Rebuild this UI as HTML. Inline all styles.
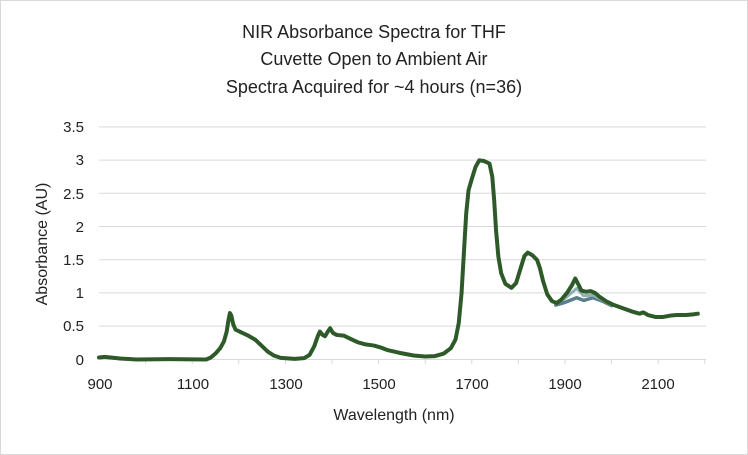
<!DOCTYPE html>
<html><head><style>
body{margin:0;background:#fff;}
svg{display:block;font-family:"Liberation Sans",sans-serif;}
</style></head><body>
<svg width="748" height="455" viewBox="0 0 748 455">
<rect x="0.5" y="0.5" width="747" height="454" fill="#fff" stroke="#d9d9d9"/>
<g font-size="18" fill="#222" text-anchor="middle">
<text x="374" y="38">NIR Absorbance Spectra for THF</text>
<text x="374" y="65">Cuvette Open to Ambient Air</text>
<text x="374" y="93">Spectra Acquired for ~4 hours (n=36)</text>
</g>
<g stroke="#d9d9d9" stroke-width="1">
<line x1="99" x2="706" y1="126.9" y2="126.9"/>
<line x1="99" x2="706" y1="160.1" y2="160.1"/>
<line x1="99" x2="706" y1="193.3" y2="193.3"/>
<line x1="99" x2="706" y1="226.5" y2="226.5"/>
<line x1="99" x2="706" y1="259.7" y2="259.7"/>
<line x1="99" x2="706" y1="292.9" y2="292.9"/>
<line x1="99" x2="706" y1="326.1" y2="326.1"/>
<line x1="99" x2="706" y1="359.5" y2="359.5"/>
</g>
<g stroke="#d9d9d9" stroke-width="1">
<line x1="145.6" x2="145.6" y1="359.5" y2="364"/><line x1="192.2" x2="192.2" y1="359.5" y2="364"/>
<line x1="238.8" x2="238.8" y1="359.5" y2="364"/><line x1="285.4" x2="285.4" y1="359.5" y2="364"/>
<line x1="332" x2="332" y1="359.5" y2="364"/><line x1="378.6" x2="378.6" y1="359.5" y2="364"/>
<line x1="425.2" x2="425.2" y1="359.5" y2="364"/><line x1="471.8" x2="471.8" y1="359.5" y2="364"/>
<line x1="518.4" x2="518.4" y1="359.5" y2="364"/><line x1="565" x2="565" y1="359.5" y2="364"/>
<line x1="611.6" x2="611.6" y1="359.5" y2="364"/><line x1="658.2" x2="658.2" y1="359.5" y2="364"/>
<line x1="704.8" x2="704.8" y1="359.5" y2="364"/>
</g>
<g font-size="15" fill="#222" text-anchor="end">
<text x="84" y="132">3.5</text><text x="84" y="165">3</text><text x="84" y="199">2.5</text>
<text x="84" y="232">2</text><text x="84" y="265">1.5</text><text x="84" y="298">1</text>
<text x="84" y="331">0.5</text><text x="84" y="365">0</text>
</g>
<g font-size="15" fill="#222" text-anchor="middle">
<text x="100" y="389">900</text><text x="193" y="389">1100</text><text x="286" y="389">1300</text>
<text x="379" y="389">1500</text><text x="472" y="389">1700</text><text x="565" y="389">1900</text><text x="658" y="389">2100</text>
<text x="394" y="420" font-size="16">Wavelength (nm)</text>
<text transform="translate(47,244) rotate(-90)" font-size="16">Absorbance (AU)</text>
</g>
<g transform="translate(99,359.5) scale(0.466,-66.4) translate(-900,0)" fill="none" stroke-linejoin="round" stroke-linecap="round">
<polyline vector-effect="non-scaling-stroke" stroke="#5a7f8a" stroke-width="3.5" points="1880,0.82 1900,0.86 1925,0.93 1940,0.89 1960,0.93 1980,0.88 2000,0.81"/>
<polyline vector-effect="non-scaling-stroke" stroke="#8fb0b4" stroke-width="3" points="1880,0.84 1900,0.92 1925,1.07 1940,0.96 1960,0.97 1980,0.90 2000,0.82"/>
<polyline vector-effect="non-scaling-stroke" stroke="#2e5a2a" stroke-width="4" points="900,0.03 912,0.04 925,0.03 945,0.015 980,0.0 1050,0.005 1130,0.0 1140,0.03 1150,0.09 1160,0.17 1168,0.27 1174,0.42 1178,0.60 1181,0.70 1184,0.66 1188,0.53 1193,0.45 1205,0.41 1220,0.36 1235,0.30 1250,0.20 1262,0.12 1275,0.06 1290,0.025 1320,0.01 1340,0.02 1352,0.07 1362,0.20 1370,0.36 1374,0.42 1380,0.37 1385,0.35 1391,0.42 1396,0.47 1402,0.40 1410,0.37 1425,0.36 1440,0.31 1455,0.26 1470,0.23 1490,0.21 1505,0.18 1520,0.14 1545,0.10 1575,0.06 1600,0.045 1620,0.05 1640,0.09 1655,0.17 1665,0.30 1672,0.55 1678,1.00 1683,1.60 1688,2.20 1693,2.55 1700,2.72 1708,2.90 1716,3.0 1726,2.99 1738,2.95 1744,2.75 1748,2.40 1752,1.95 1757,1.55 1763,1.30 1772,1.14 1785,1.08 1795,1.15 1805,1.38 1813,1.56 1820,1.61 1830,1.57 1840,1.50 1846,1.38 1853,1.18 1862,0.98 1872,0.88 1882,0.85 1892,0.90 1905,1.01 1915,1.12 1922,1.22 1928,1.14 1935,1.04 1945,1.02 1955,1.03 1965,1.00 1975,0.94 1990,0.87 2005,0.82 2025,0.77 2045,0.72 2060,0.69 2068,0.71 2078,0.67 2095,0.64 2110,0.64 2125,0.66 2140,0.67 2160,0.67 2175,0.68 2185,0.69"/>
</g>
</svg>
</body></html>
